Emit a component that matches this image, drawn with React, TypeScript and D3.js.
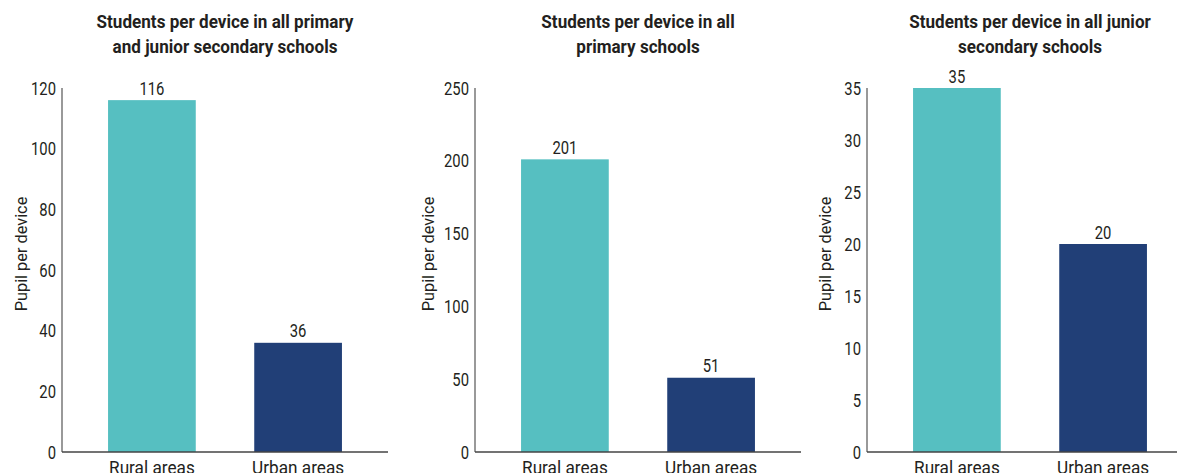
import React from "react";
import * as d3 from "d3";

const categories = ["Rural areas", "Urban areas"];
const colors = ["#56bfc1", "#213f77"];

const titles = [
  ["Students per device in all primary", "and junior secondary schools"],
  ["Students per device in all", "primary schools"],
  ["Students per device in all junior", "secondary schools"],
];
const allSchools = [116, 36];
const primarySchools = [201, 51];
const juniorSchools = [35, 20];
const yMax = [120, 250, 35];
const tickValues = [
  [0, 20, 40, 60, 80, 100, 120],
  [0, 50, 100, 150, 200, 250],
  [0, 5, 10, 15, 20, 25, 30, 35],
];
const yTitle = "Pupil per device";

const series = [allSchools, primarySchools, juniorSchools];
const axisX = [62, 475, 867];
const yTitleOffset = [41, 47, 42];
const plotW = 326;
const yTop = 88;
const yBase = 452;
const FONT = "Roboto, 'Liberation Sans', sans-serif";
const INK = "#231f20";

// Text narrowed horizontally to get a condensed face from Roboto.
function CText({
  x,
  y,
  sx,
  rotate = 0,
  anchor = "middle",
  size,
  weight = 400,
  dy,
  children,
}: {
  x: number;
  y: number;
  sx: number;
  rotate?: number;
  anchor?: string;
  size: number;
  weight?: number;
  dy?: string;
  children: React.ReactNode;
}) {
  return (
    <text
      transform={`translate(${x},${y}) rotate(${rotate}) scale(${sx},1)`}
      textAnchor={anchor}
      dy={dy}
      fontFamily={FONT}
      fontSize={size}
      fontWeight={weight}
      fill={INK}
    >
      {children}
    </text>
  );
}

function Panel({ i }: { i: number }) {
  const x0 = axisX[i];
  const x = d3
    .scaleBand<string>()
    .domain(categories)
    .range([x0, x0 + plotW])
    .paddingInner(0.4)
    .paddingOuter(0.315);
  const y = d3.scaleLinear().domain([0, yMax[i]]).range([yBase, yTop]);
  const values = series[i];
  const cx = x0 + plotW / 2;
  return (
    <g>
      <CText x={cx} y={28} sx={0.95} size={18} weight={700}>
        {titles[i][0]}
      </CText>
      <CText x={cx} y={53} sx={0.95} size={18} weight={700}>
        {titles[i][1]}
      </CText>
      {tickValues[i].map((t) => (
        <CText key={t} x={x0 - 6} y={y(t)} dy="0.36em" sx={0.8} size={18.5} anchor="end">
          {t}
        </CText>
      ))}
      <CText
        x={x0 - yTitleOffset[i]}
        y={(yTop + yBase) / 2 - 16}
        rotate={-90}
        dy="0.36em"
        sx={0.96}
        size={17}
      >
        {yTitle}
      </CText>
      {categories.map((c, j) => {
        const mx = (x(c) as number) + x.bandwidth() / 2;
        return (
          <g key={c}>
            <rect
              x={x(c)}
              y={y(values[j])}
              width={x.bandwidth()}
              height={yBase - y(values[j])}
              fill={colors[j]}
            />
            <CText x={mx} y={y(values[j]) - 12} dy="0.36em" sx={0.8} size={18.5}>
              {values[j]}
            </CText>
            <CText x={mx} y={yBase + 22} sx={0.93} size={18.5}>
              {c}
            </CText>
          </g>
        );
      })}
      <line x1={x0} x2={x0} y1={yTop} y2={yBase} stroke="#777" strokeWidth={1.5} />
      <line x1={x0} x2={x0 + plotW} y1={yBase} y2={yBase} stroke="#444" strokeWidth={1.5} />
    </g>
  );
}

export default function App() {
  return (
    <svg
      width={1177}
      height={473}
      style={{ position: "absolute", left: 0, top: 0, background: "#fff" }}
    >
      {[0, 1, 2].map((i) => (
        <Panel key={i} i={i} />
      ))}
    </svg>
  );
}
